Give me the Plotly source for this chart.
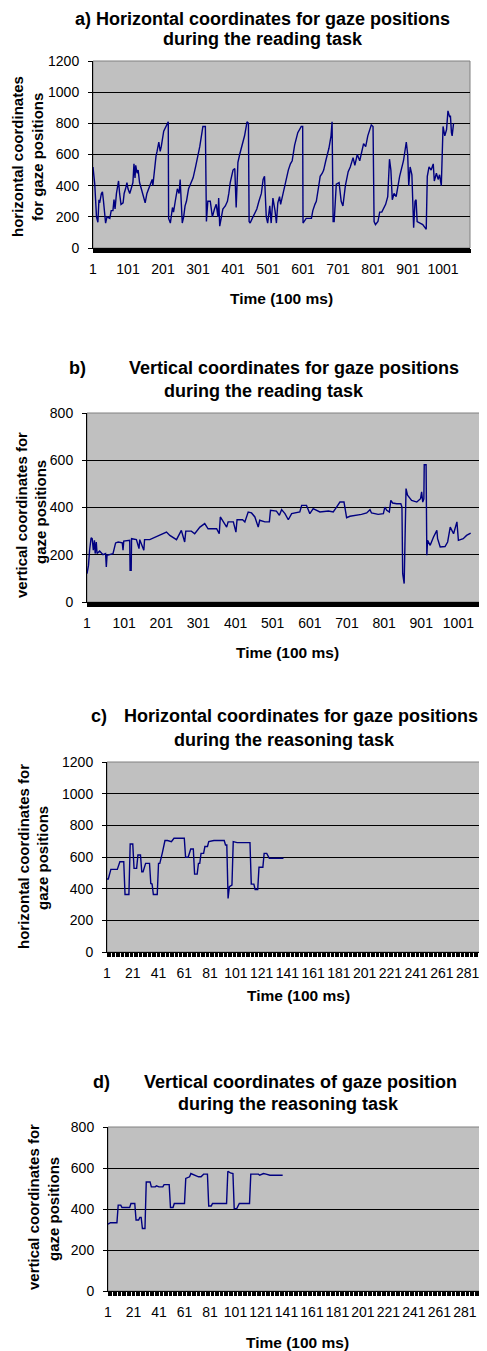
import plotly.graph_objects as go

# ---------------- data (time index in 100 ms steps, coordinate values) ----------------
a_t = [1, 6, 11, 13, 15, 18, 20, 25, 28, 31,
       34, 37, 41, 49, 53, 58, 61, 64, 68, 70,
       74, 77, 81, 87, 90, 94, 98, 101, 106, 110,
       115, 118, 121, 123, 127, 130, 134, 139, 147, 150,
       155, 160, 165, 170, 172, 175, 178, 181, 184, 189,
       193, 196, 203, 210, 216, 217, 222, 228, 231, 236,
       242, 247, 250, 256, 260, 264, 268, 274, 282, 287,
       294, 302, 306, 315, 322, 325, 329, 336, 342, 348,
       353, 358, 360, 363, 368, 372, 379, 385, 389, 393,
       401, 406, 410, 415, 420, 434, 441, 445, 447, 450,
       456, 462, 469, 475, 482, 487, 491, 494, 496, 500,
       506, 510, 515, 521, 525, 529, 534, 537, 544, 548,
       553, 559, 565, 570, 577, 586, 596, 600, 601, 610,
       625, 629, 635, 639, 646, 650, 656, 660, 666, 675,
       681, 684, 687, 690, 696, 704, 710, 715, 722, 726,
       730, 736, 744, 749, 756, 763, 767, 774, 780, 786,
       796, 801, 804, 808, 815, 820, 826, 832, 837, 843,
       848, 852, 856, 861, 867, 877, 882, 888, 896, 900,
       903, 907, 912, 917, 921, 924, 927, 934, 943, 953,
       956, 961, 967, 973, 976, 982, 987, 991, 996, 1001,
       1006, 1011, 1015, 1020, 1022, 1025, 1027, 1031]
a_v = [519, 410, 200, 165, 165, 310, 290, 350, 360, 300,
       240, 160, 200, 190, 240, 240, 310, 250, 350, 380,
       430, 350, 280, 290, 350, 380, 420, 380, 350, 380,
       420, 540, 450, 530, 480, 500, 420, 380, 320, 290,
       350, 380, 420, 440, 400, 480, 520, 590, 620, 680,
       620, 650, 750, 780, 810, 190, 160, 260, 230, 300,
       380, 350, 440, 160, 200, 270, 300, 380, 420, 450,
       520, 600, 650, 780, 780, 170, 300, 300, 200, 250,
       280, 200, 320, 140, 200, 250, 270, 300, 350, 420,
       500, 510, 260, 550, 600, 720, 810, 800, 170, 160,
       190, 220, 250, 300, 350, 440, 460, 300, 200, 160,
       270, 160, 320, 240, 160, 290, 330, 280, 350, 400,
       430, 500, 540, 560, 660, 740, 780, 780, 160, 190,
       190, 240, 280, 300, 400, 460, 480, 500, 560, 640,
       720, 810, 170, 170, 410, 420, 300, 270, 400, 440,
       490, 520, 580, 530, 600, 560, 600, 670, 650, 720,
       790, 780, 170, 150, 170, 230, 230, 260, 280, 330,
       570, 500, 310, 350, 330, 460, 500, 560, 680, 600,
       400, 520, 470, 130, 300, 310, 170, 160, 150, 120,
       460, 520, 500, 540, 430, 480, 440, 470, 400, 780,
       720, 760, 880, 840, 850, 740, 720, 800]

b_t = [1, 5, 8, 12, 15, 18, 21, 23, 26, 28,
       35, 40, 44, 51, 53, 55, 62, 71, 78, 85,
       96, 98, 100, 112, 116, 117, 120, 121, 134, 141,
       143, 154, 156, 170, 181, 190, 201, 215, 224, 242,
       255, 264, 267, 282, 291, 305, 318, 327, 350, 357,
       360, 368, 377, 381, 395, 402, 405, 420, 426, 435,
       444, 453, 462, 466, 480, 492, 495, 511, 519, 525,
       534, 543, 552, 574, 579, 592, 601, 610, 628, 651,
       664, 673, 682, 693, 698, 700, 709, 727, 740, 754,
       763, 767, 785, 799, 803, 808, 815, 819, 824, 835,
       846, 849, 851, 855, 860, 864, 875, 889, 899, 902,
       905, 908, 909, 914, 916, 918, 925, 934, 943, 945,
       952, 965, 972, 979, 988, 997, 1001, 1014, 1023, 1034]
b_v = [120, 155, 219, 272, 268, 219, 261, 205, 254, 205,
       216, 205, 200, 205, 148, 198, 202, 205, 250, 254,
       250, 219, 258, 261, 261, 134, 134, 268, 264, 226,
       264, 219, 264, 264, 272, 278, 289, 296, 282, 264,
       303, 254, 300, 300, 289, 317, 332, 310, 310, 289,
       360, 339, 317, 339, 339, 296, 348, 348, 339, 381,
       377, 360, 317, 346, 339, 339, 388, 385, 367, 391,
       374, 348, 374, 381, 409, 409, 374, 395, 381, 385,
       381, 402, 423, 423, 374, 357, 363, 367, 371, 377,
       391, 377, 371, 374, 402, 388, 381, 430, 419, 416,
       416, 402, 120, 78, 480, 452, 430, 423, 437, 466,
       423, 437, 581, 581, 198, 261, 240, 275, 303, 268,
       233, 235, 254, 317, 289, 339, 261, 268, 282, 292]

c_t = [1, 2, 4, 9, 11, 14, 15, 18, 19, 21,
       22, 24, 25, 27, 28, 29, 31, 34, 35, 36,
       37, 40, 41, 42, 44, 46, 48, 50, 51, 53,
       61, 62, 64, 66, 68, 69, 71, 72, 73, 74,
       76, 77, 79, 80, 83, 84, 92, 93, 94, 95,
       96, 98, 99, 102, 112, 113, 115, 116, 118, 119,
       122, 123, 125, 127, 138]
c_v = [461, 461, 522, 522, 570, 570, 363, 363, 682, 682,
       528, 528, 613, 613, 507, 507, 560, 560, 433, 429,
       363, 363, 560, 560, 628, 704, 704, 697, 697, 718,
       718, 598, 598, 651, 651, 492, 492, 560, 560, 623,
       623, 666, 666, 697, 700, 704, 704, 676, 676, 338,
       412, 423, 697, 691, 691, 429, 429, 395, 395, 535,
       535, 623, 623, 592, 592]

d_t = [1, 3, 8, 9, 11, 12, 18, 19, 22, 23,
       25, 26, 27, 28, 30, 31, 34, 35, 38, 39,
       41, 44, 45, 49, 50, 52, 53, 61, 62, 65,
       66, 69, 72, 74, 76, 79, 80, 82, 83, 94,
       95, 97, 99, 100, 102, 104, 112, 113, 119, 120,
       123, 125, 128, 138]
d_v = [326, 333, 333, 419, 419, 407, 407, 427, 427, 346,
       346, 359, 359, 305, 305, 532, 532, 508, 508, 513,
       508, 508, 519, 519, 407, 407, 427, 427, 549, 557,
       573, 565, 557, 557, 570, 570, 415, 415, 427, 427,
       584, 576, 573, 402, 402, 427, 427, 570, 570, 565,
       573, 570, 565, 565]

reading_ticks = [1, 101, 201, 301, 401, 501, 601, 701, 801, 901, 1001]
reasoning_ticks = [1, 21, 41, 61, 81, 101, 121, 141, 161, 181, 201, 221, 241, 261, 281]

# ---------------- layout helpers ----------------
# the page body adds an 8 px margin, so the figure is drawn 8 px smaller
# and every layout position below is given in window pixels
OFF = 8
W, H = 487 - OFF, 1351 - OFF
FONT = "Liberation Sans, Arial, sans-serif"
LINE = "#000080"


def fx(p):
    return (p - OFF) / W


def fy(p):
    return 1 - (p - OFF) / H


fig = go.Figure()

panels = [
    ("", a_t, a_v, (93, 470), (61, 248), (1, 1078), 1200, reading_ticks),
    ("2", b_t, b_v, (87, 487), (413, 602), (1, 1078), 800, reading_ticks),
    ("3", c_t, c_v, (107, 487), (762, 952), (1, 296), 1200, reasoning_ticks),
    ("4", d_t, d_v, (108, 486), (1127, 1291), (1, 297.5), 800, reasoning_ticks),
]

shapes = []
for suf, xs, ys, (x0, x1), (y0, y1), xr, ymax, ticks in panels:
    fig.add_trace(go.Scatter(x=xs, y=ys, mode="lines",
                             line=dict(color=LINE, width=1.4),
                             xaxis="x" + suf, yaxis="y" + suf,
                             showlegend=False, hoverinfo="skip"))
    fig.update_layout(**{
        "xaxis" + suf: dict(
            domain=[fx(x0), min(fx(x1), 1.0)], range=list(xr), anchor="y" + suf,
            tickmode="array", tickvals=ticks, ticktext=[str(t) for t in ticks],
            tickangle=0,
            ticks="outside", ticklen=4, tickcolor="black", tickwidth=1,
            minor=dict(dtick=1, tick0=1, ticks="outside", ticklen=4,
                       tickcolor="black", tickwidth=1, showgrid=False),
            showline=True, linecolor="black", linewidth=1,
            showgrid=False, zeroline=False, automargin=False,
            tickfont=dict(family=FONT, size=14, color="black"),
            ticklabelstandoff=4,
        ),
        "yaxis" + suf: dict(
            domain=[fy(y1), fy(y0)], range=[0, ymax], anchor="x" + suf,
            dtick=200, tick0=0,
            ticks="outside", ticklen=4, tickcolor="black",
            showline=True, linecolor="black", linewidth=1,
            showgrid=True, gridcolor="black", gridwidth=1, zeroline=False,
            automargin=False,
            tickfont=dict(family=FONT, size=14, color="black"),
            ticklabelstandoff=6,
        ),
    })
    shapes.append(dict(type="rect", xref="x" + suf + " domain", yref="y" + suf + " domain",
                       x0=0, x1=1, y0=0, y1=1, line=dict(color="#808080", width=1),
                       layer="below"))

annotations = []


def ann(text, x, y, size=15, bold=True, angle=0):
    t = "<b>" + text + "</b>" if bold else text
    annotations.append(dict(text=t, x=fx(x), y=fy(y), xref="paper", yref="paper",
                            xanchor="center", yanchor="middle", showarrow=False,
                            textangle=angle,
                            font=dict(family=FONT, size=size, color="black")))


# titles
ann("a) Horizontal coordinates for gaze positions", 263, 19, 18)
ann("during the reading task", 263, 39, 18)
ann("b)", 77, 368, 18)
ann("Vertical coordinates for gaze positions", 294, 368, 18)
ann("during the reading task", 264, 391, 18)
ann("c)", 99, 716, 18)
ann("Horizontal coordinates for gaze positions", 301, 716, 18)
ann("during the reasoning task", 284, 740, 18)
ann("d)", 101, 1082, 18)
ann("Vertical coordinates of gaze position", 300, 1082, 18)
ann("during the reasoning task", 288, 1104, 18)

# x axis titles
ann("Time (100 ms)", 281, 298, 15.5)
ann("Time (100 ms)", 287, 652, 15.5)
ann("Time (100 ms)", 298, 995, 15.5)
ann("Time (100 ms)", 297, 1342, 15.5)

# y axis titles
ann("horizontal coordinates", 18, 157, angle=-90)
ann("for gaze positions", 38, 157, angle=-90)
ann("vertical coordinates for", 22, 515, angle=-90)
ann("gaze positions", 41, 512, angle=-90)
ann("horizontal coordinates for", 23, 857, angle=-90)
ann("gaze positions", 42, 858, angle=-90)
ann("vertical coordinates for", 33, 1207, angle=-90)
ann("gaze positions", 53, 1209, angle=-90)

fig.update_layout(
    width=W, height=H, autosize=False,
    margin=dict(l=0, r=0, t=0, b=0, pad=0, autoexpand=False),
    paper_bgcolor="white", plot_bgcolor="#C0C0C0",
    shapes=shapes, annotations=annotations,
    showlegend=False,
)

fig.write_html("out.html")
